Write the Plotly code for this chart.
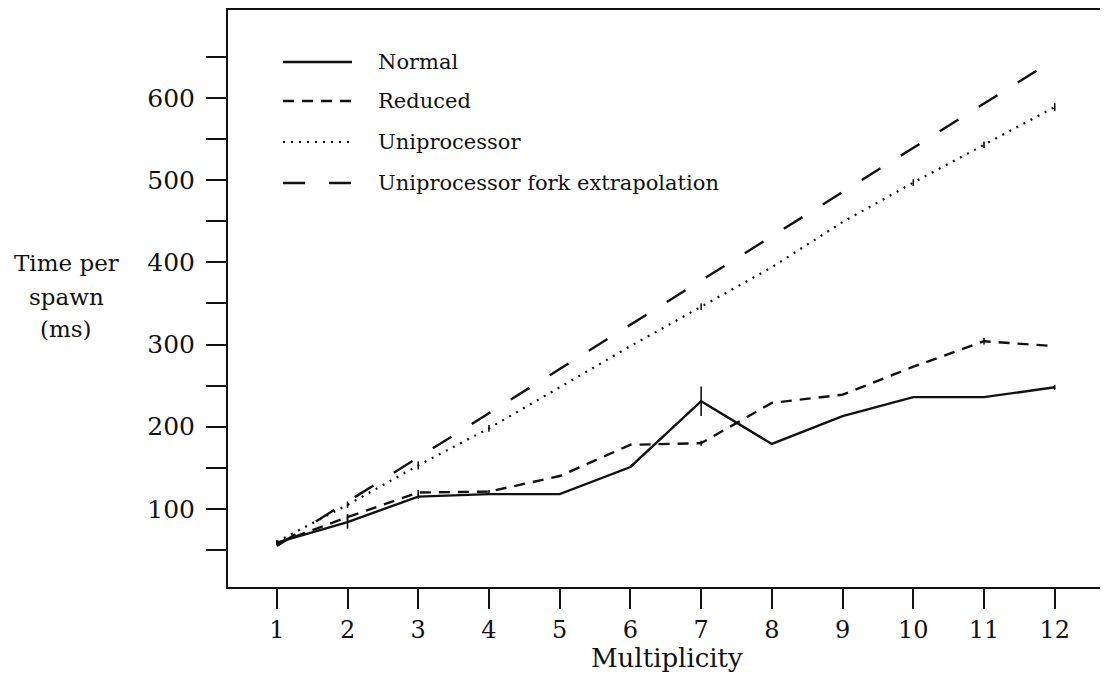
import plotly.graph_objects as go

# ---- data ----
multiplicity = [1, 2, 3, 4, 5, 6, 7, 8, 9, 10, 11, 12]

normal = [59, 84, 115, 118, 118, 151, 231, 179, 213, 236, 236, 248]
normal_err = [3, 8, 3, 0, 0, 0, 18, 0, 0, 0, 0, 3]

reduced = [58, 90, 120, 121, 140, 178, 180, 229, 239, 273, 304, 298]
reduced_err = [0, 4, 3, 2, 0, 0, 3, 0, 0, 0, 4, 0]

uniproc = [60, 105, 153, 198, 248, 298, 346, 394, 449, 497, 543, 589]
uniproc_err = [0, 4, 5, 4, 0, 0, 4, 0, 0, 4, 4, 5]

fork_x = [1, 12]
fork_y = [55, 647]

y_tickvals = [50, 100, 150, 200, 250, 300, 350, 400, 450, 500, 550, 600, 650]
y_ticktext = ["", "100", "", "200", "", "300", "", "400", "", "500", "", "600", ""]

legend_names = ["Normal", "Reduced", "Uniprocessor", "Uniprocessor fork extrapolation"]

FONT = "DejaVu Serif"
INK = "#111111"

styles = {
    "Normal": dict(dash="solid", width=2.4),
    "Reduced": dict(dash="11px,8px", width=2.4),
    "Uniprocessor": dict(dash="2px,6px", width=2.2),
    "Uniprocessor fork extrapolation": dict(dash="22px,24px", width=2.4),
}

fig = go.Figure()

def add_series(x, y, err, name):
    kw = {}
    if err is not None:
        kw["error_y"] = dict(type="data", array=err, symmetric=True,
                             thickness=1.6, width=0, color=INK)
    fig.add_trace(go.Scatter(
        x=x, y=y, mode="lines", name=name, showlegend=False,
        line=dict(color=INK, **styles[name]), **kw))

add_series(fork_x, fork_y, None, "Uniprocessor fork extrapolation")
add_series(multiplicity, uniproc, uniproc_err, "Uniprocessor")
add_series(multiplicity, reduced, reduced_err, "Reduced")
add_series(multiplicity, normal, normal_err, "Normal")

# page has an 8px body margin: figure coords = page coords - 8
OFF = 8
FW, FH = 1092, 669
L, R, T, B = 228 - OFF, 1100 - OFF, 10 - OFF, 587 - OFF
W, H = R - L, B - T

def px(xp):
    return (xp - OFF - L) / W

def py(yp):
    return (B - (yp - OFF)) / H

# ---- legend (inside plot, upper left) ----
rows = [62, 101, 142, 183]
for name, yr in zip(legend_names, rows):
    st = styles[name]
    fig.add_shape(type="line", xref="paper", yref="paper",
                  x0=px(283), x1=px(352), y0=py(yr), y1=py(yr),
                  line=dict(color=INK, width=st["width"], dash=st["dash"]))
    fig.add_annotation(xref="paper", yref="paper", x=px(376), y=py(yr),
                       text=name, showarrow=False, xanchor="left", yanchor="middle",
                       font=dict(family=FONT, size=21, color=INK))

# ---- y-axis title as three stacked lines ----
for txt, yr in zip(["Time per", "spawn", "(ms)"], [263, 297, 329]):
    fig.add_annotation(xref="paper", yref="paper", x=px(66), y=py(yr),
                       text=txt, showarrow=False, xanchor="center", yanchor="middle",
                       font=dict(family=FONT, size=23, color=INK))

# ---- x-axis title ----
fig.add_annotation(xref="paper", yref="paper", x=px(667), y=py(675),
                   text="Multiplicity", showarrow=False, xanchor="center", yanchor="bottom",
                   font=dict(family=FONT, size=26, color=INK))

fig.update_layout(
    width=FW, height=FH,
    margin=dict(l=L, r=FW - R, t=T, b=FH - B),
    paper_bgcolor="white", plot_bgcolor="white",
    font=dict(family=FONT, color=INK),
    showlegend=False,
    xaxis=dict(
        range=[0.31, 12.64], tickvals=multiplicity,
        ticks="outside", ticklen=20, tickwidth=1.6, tickcolor=INK,
        showline=True, linewidth=2, linecolor=INK, mirror=True,
        showgrid=False, zeroline=False,
        tickfont=dict(family=FONT, size=24, color=INK),
    ),
    yaxis=dict(
        range=[5, 707], tickvals=y_tickvals, ticktext=y_ticktext,
        ticks="outside", ticklen=20, tickwidth=1.6, tickcolor=INK,
        showline=True, linewidth=2, linecolor=INK,
        showgrid=False, zeroline=False, ticklabelstandoff=6,
        tickfont=dict(family=FONT, size=25, color=INK),
    ),
)

fig.write_html("out.html")
